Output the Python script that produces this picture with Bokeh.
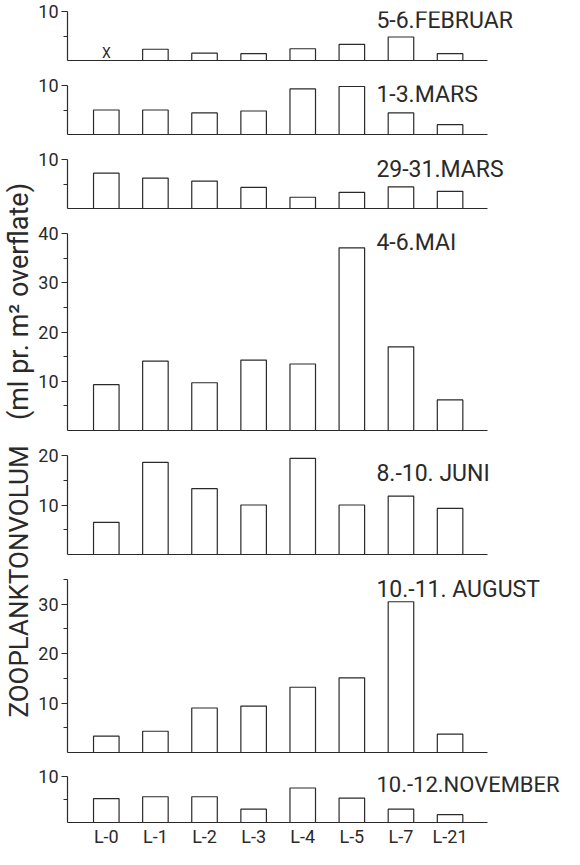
import math
from bokeh.plotting import figure
from bokeh.layouts import row, column
from bokeh.models import Range1d, FixedTicker, Label, ColumnDataSource
from bokeh.embed import file_html
from bokeh.resources import INLINE
from bokeh.core.properties import value

# ---------------- data ----------------
stations = ["L-0", "L-1", "L-2", "L-3", "L-4", "L-5", "L-7", "L-21"]
periods = ["5-6.FEBRUAR", "1-3.MARS", "29-31.MARS", "4-6.MAI",
           "8.-10. JUNI", "10.-11. AUGUST", "10.-12.NOVEMBER"]
feb = [None, 2.3, 1.5, 1.4, 2.4, 3.3, 4.8, 1.4]
mar1 = [5.0, 5.0, 4.4, 4.8, 9.3, 9.8, 4.4, 2.0]
mar29 = [7.2, 6.2, 5.6, 4.3, 2.3, 3.3, 4.4, 3.5]
mai = [9.3, 14.1, 9.7, 14.3, 13.5, 37.1, 17.0, 6.2]
juni = [6.5, 18.6, 13.3, 10.0, 19.4, 10.0, 11.8, 9.3]
aug = [3.3, 4.3, 9.0, 9.4, 13.2, 15.1, 30.5, 3.7]
nov = [5.2, 5.6, 5.6, 2.9, 7.5, 5.3, 2.9, 1.7]
axis_max = [10, 10, 10, 40, 20, 35, 10]
major_ticks = [[10], [10], [10], [10, 20, 30, 40], [10, 20], [10, 20, 30], [10]]
minor_ticks = [[5], [5], [5], [5, 15, 25, 35], [5, 15], [5, 15, 25, 35], [5]]
ylabel_a = "ZOOPLANKTONVOLUM"
ylabel_b = "(ml pr. m\u00b2 overflate)"
missing_mark = "X"

series = [feb, mar1, mar29, mai, juni, aug, nov]

# ---------------- style / layout ----------------
FONT = "Roboto"
INK = "#2a2a2a"
K = 4.93            # pixels per unit (vertical)
LABEL_W = 35
FIG_W = 529
LEFT_B = 30
X_START, X_END = -0.79, 9.33      # index units across the frame
AXIS_BOUNDS = (-0.79, 7.77)       # extent of the baseline
title_off_px = [9, 9, 10, 9, 18, 10, 9]
title_size = ["23px"] * 6 + ["22px"]
TITLE_X = 5.5
top_border = [11, 12, 12, 12, 12, 12, 12]
bottom_border = [13, 13, 13, 13, 13, 12, 24]

xpos = list(range(len(stations)))

panels = []
for i, vals in enumerate(series):
    last = (i == len(series) - 1)
    fh = round(axis_max[i] * K)
    top_b = top_border[i]
    bot_b = bottom_border[i]
    p = figure(
        x_range=Range1d(X_START, X_END),
        y_range=Range1d(0, axis_max[i]),
        width=FIG_W, height=top_b + fh + bot_b,
        min_border_left=LEFT_B, min_border_right=0,
        min_border_top=top_b, min_border_bottom=bot_b,
        output_backend="svg", toolbar_location=None, tools="",
    )
    p.outline_line_color = None
    p.background_fill_color = "white"
    p.border_fill_color = "white"
    p.grid.visible = False

    ya = p.yaxis[0]
    ya.ticker = FixedTicker(ticks=major_ticks[i], minor_ticks=minor_ticks[i])
    ya.axis_line_color = INK
    ya.axis_line_width = 1.2
    ya.major_tick_line_color = INK
    ya.minor_tick_line_color = INK
    ya.major_tick_in = 0
    ya.major_tick_out = 6
    ya.minor_tick_in = 0
    ya.minor_tick_out = 4
    ya.major_label_standoff = 3
    ya.major_label_text_font = FONT
    ya.major_label_text_font_size = "18px"
    ya.major_label_text_color = INK

    xa = p.xaxis[0]
    xa.bounds = AXIS_BOUNDS
    xa.axis_line_color = INK
    xa.axis_line_width = 1.2
    xa.major_tick_in = 0
    xa.major_tick_out = 0
    xa.minor_tick_in = 0
    xa.minor_tick_out = 0
    xa.minor_tick_line_color = None
    xa.major_tick_line_color = None
    if last:
        xa.ticker = FixedTicker(ticks=xpos, minor_ticks=[])
        xa.major_label_overrides = {k: s for k, s in zip(xpos, stations)}
        xa.major_label_standoff = 3
        xa.major_label_text_font = FONT
        xa.major_label_text_font_size = "18px"
        xa.major_label_text_color = INK
    else:
        xa.ticker = FixedTicker(ticks=[], minor_ticks=[])
        xa.major_label_standoff = 0
        xa.major_label_text_font_size = "0px"

    xs = [x for x, v in zip(xpos, vals) if v is not None]
    tops = [v for v in vals if v is not None]
    src = ColumnDataSource(dict(x=xs, top=tops))
    p.vbar(x="x", top="top", bottom=0, width=0.52, source=src,
           fill_color="white", line_color=INK, line_width=1.2)

    miss = [x for x, v in zip(xpos, vals) if v is None]
    if miss:
        p.text(x=miss, y=[0] * len(miss), text=[missing_mark] * len(miss),
               text_font=value(FONT), text_font_size="14px",
               text_align="center", text_baseline="bottom", text_color=INK)

    p.add_layout(Label(x=TITLE_X, y=axis_max[i] - title_off_px[i] / K, text=periods[i],
                       text_font=FONT, text_font_size=title_size[i], text_color=INK,
                       text_align="left", text_baseline="middle"))
    panels.append(p)

total_h = sum(pp.height for pp in panels)

lab = figure(width=LABEL_W, height=total_h, x_range=Range1d(0, LABEL_W),
             y_range=Range1d(0, total_h), min_border=0,
             x_axis_type=None, y_axis_type=None,
             output_backend="svg", toolbar_location=None, tools="")
lab.outline_line_color = None
lab.grid.visible = False
lab.border_fill_color = "white"
lab.add_layout(Label(x=18, y=total_h - (589 - 8), text=ylabel_a, angle=math.pi / 2,
                     text_font=FONT, text_font_size="26px", text_color=INK,
                     text_align="center", text_baseline="middle"))
lab.add_layout(Label(x=18, y=total_h - (309 - 8), text=ylabel_b, angle=math.pi / 2,
                     text_font=FONT, text_font_size="27px", text_color=INK,
                     text_align="center", text_baseline="middle"))

layout = row(lab, column(*panels))
open("out.html", "w").write(file_html(layout, INLINE, title="Zooplanktonvolum"))
